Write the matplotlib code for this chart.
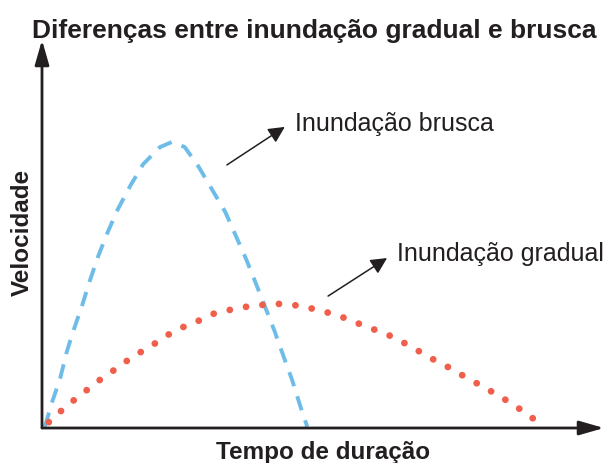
import matplotlib
matplotlib.use("Agg")
import matplotlib.pyplot as plt

# curve points (time 0-100, velocity 0-100)
brusca_t = [0.5, 1.8, 3.2, 4.4, 5.5, 7.1, 8.5, 10.0, 11.7, 13.5, 15.7, 18.0, 21.0, 23.1,
            25.4, 27.8, 30.2, 32.6, 34.5, 36.3, 38.1, 39.7, 41.3, 42.9, 44.5, 45.9, 47.2]
brusca_v = [0.3, 6.7, 12.6, 19.6, 24.7, 31.4, 37.9, 44.3, 50.5, 56.4, 62.4, 68.0, 72.4, 73.7,
            72.4, 67.5, 61.6, 55.7, 49.5, 43.6, 37.1, 31.2, 25.3, 18.8, 12.4, 5.9, 0.3]

gradual_t = [1.2, 3.4, 5.7, 8.0, 10.3, 12.6, 15.1, 17.6, 19.9, 22.4, 25.1, 27.8, 30.4, 33.3,
             36.1, 39.0, 42.0, 44.8, 47.7, 50.5, 53.4, 56.0, 58.9, 61.6, 64.1, 66.7, 69.2,
             71.9, 74.4, 76.9, 79.5, 82.0, 84.5, 86.8, 89.1]
gradual_v = [1.5, 4.4, 7.2, 9.8, 12.4, 14.7, 17.3, 19.6, 21.6, 24.0, 26.0, 27.6, 29.4, 30.4,
             31.2, 31.7, 32.0, 31.7, 30.9, 29.9, 28.6, 27.1, 25.5, 24.0, 22.2, 20.1, 18.0,
             16.0, 13.9, 11.9, 9.8, 7.7, 5.4, 3.1, 0.5]

title = "Diferenças entre inundação gradual e brusca"
xlabel = "Tempo de duração"
ylabel = "Velocidade"
label_brusca = "Inundação brusca"
label_gradual = "Inundação gradual"

ink = "#231f20"
blue = "#6dbde8"
red = "#ef5f4c"

plt.rcParams["font.family"] = ["Liberation Sans", "DejaVu Sans"]

W, H = 608, 464
fig = plt.figure(figsize=(W / 100, H / 100), dpi=100)
ax = fig.add_axes([42 / W, 35 / H, 562 / W, 388 / H])
ax.set_xlim(0, 100)
ax.set_ylim(0, 100)
ax.axis("off")

# axes with arrow heads
axis_arrow = dict(arrowstyle="-|>,head_length=1.5,head_width=0.43", lw=2.0,
                  color=ink, mutation_scale=10, shrinkA=0, shrinkB=0)
ax.annotate("", xy=(1, 0), xytext=(0, 0), xycoords="axes fraction", arrowprops=axis_arrow)
ax.annotate("", xy=(0, 1), xytext=(0, 0), xycoords="axes fraction", arrowprops=axis_arrow)

ax.plot(brusca_t, brusca_v, color=blue, lw=2.8, linestyle=(0, (3.8, 2.7)), clip_on=False)
ax.plot(gradual_t, gradual_v, color=red, lw=4.9, linestyle=(0, (0.01, 2.42)),
        dash_capstyle="round", clip_on=False)

small_arrow = dict(arrowstyle="-|>,head_length=0.7,head_width=0.35", lw=1.1,
                   color=ink, mutation_scale=14, shrinkA=0, shrinkB=0)
ax.annotate("", xy=(43.2, 77.6), xytext=(32.9, 67.8), arrowprops=small_arrow)
ax.annotate("", xy=(61.4, 43.8), xytext=(50.9, 34.0), arrowprops=small_arrow)
ax.text(45.0, 78.6, label_brusca, fontsize=18, color=ink, ha="left", va="center")
ax.text(63.2, 45.0, label_gradual, fontsize=18, color=ink, ha="left", va="center")

fig.text(314 / W, 1 - 38 / H, title, fontsize=19, fontweight="bold", color=ink,
         ha="center", va="baseline")
fig.text(323 / W, 1 - 459 / H, xlabel, fontsize=17.5, fontweight="bold", color=ink,
         ha="center", va="baseline")
fig.text(22 / W, 1 - 232 / H, ylabel, fontsize=17.5, fontweight="bold", color=ink,
         ha="center", va="center", rotation=90)

fig.savefig("out.png", dpi=100)
